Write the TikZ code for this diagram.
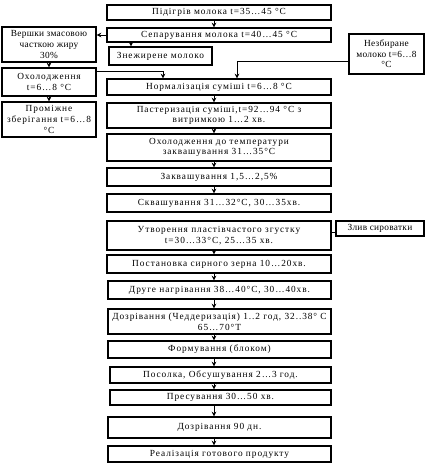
\documentclass[tikz,border=0pt]{standalone}
\usepackage{fontspec}
\setmainfont{Liberation Serif}[LetterSpace=10]
\newfontfamily\sidefont{Liberation Serif}[LetterSpace=3]
\usetikzlibrary{arrows.meta}
\begin{document}
\begin{tikzpicture}[x=0.75pt,y=-0.75pt,
  bx/.style n args={4}{draw=black,line width=0.95pt,fill=white,inner sep=0pt,
     minimum width=#3*0.75pt,minimum height=#4*0.75pt,align=center,
     font=\fontsize{7}{8}\selectfont},
  side/.style={font=\sidefont\fontsize{7}{8}\selectfont},
  arr/.style={-{Stealth[length=3.5pt,width=3.5pt]},line width=0.6pt},
  ln/.style={line width=0.6pt}]
\useasboundingbox (0,0) rectangle (431,468);
% main column
\node[bx={}{}{224}{15}] (pid) at (219,12.5) {Підігрів молока t=35…45 °C};
\node[bx={}{}{224}{14}] (sep) at (219,35) {Сепарування молока t=40…45 °C};
\node[bx={}{}{103}{18}] (zn) at (160.5,56) {Знежирене молоко};
\node[bx={}{}{224}{16}] (norm) at (219,87) {Нормалізація суміші t=6…8 °C};
\node[bx={}{}{224}{25}] (past) at (219,115.5) {Пастеризація суміші,t=92…94 °C з\\витримкою 1…2 хв.};
\node[bx={}{}{224}{27}] (okh2) at (219,147.5) {Охолодження до температури\\заквашування 31…35°C};
\node[bx={}{}{224}{18}] (zakv) at (219,177) {Заквашування 1,5…2,5\%};
\node[bx={}{}{224}{18}] (skv) at (219,203) {Сквашування 31…32°C, 30…35хв.};
\node[bx={}{}{224}{29}] (utv) at (219,235.5) {Утворення пластівчастого згустку\\t=30…33°C, 25…35 хв.};
\node[bx={}{}{224}{18}] (post) at (219,264) {Постановка сирного зерна 10…20хв.};
\node[bx={}{}{223}{18}] (dr) at (219.5,290) {Друге нагрівання 38…40°C, 30…40хв.};
\node[bx={}{}{223}{25}] (doz) at (219.5,321.5) {Дозрівання  (Чеддеризація)  1..2 год, 32..38° C\\65…70°T};
\node[bx={}{}{223}{17}] (form) at (219.5,349.5) {Формування (блоком)};
\node[bx={}{}{221}{16}] (pos) at (220.5,375) {Посолка, Обсушування 2…3 год.};
\node[bx={}{}{221}{15}] (pres) at (220.5,397.5) {Пресування 30…50 хв.};
\node[bx={}{}{223}{21}] (d90) at (219.5,427.5) {Дозрівання 90 дн.};
\node[bx={}{}{223}{16}] (real) at (219.5,454) {Реалізація готового продукту};
% left column
\node[bx={}{}{94}{35},side] (ver) at (49,44.5) {Вершки змасовою\\часткою жиру\\30\%};
\node[bx={}{}{94}{28}] (okh1) at (49,82) {Охолодження\\t=6…8 °C};
\node[bx={}{}{94}{35}] (prom) at (49,119.5) {Проміжне\\зберігання t=6…8\\°C};
% right column
\node[bx={}{}{75}{40},side] (nez) at (386.5,54) {Незбиране\\молоко t=6…8\\°C};
\node[bx={}{}{88}{15},side] (zl) at (380,228.5) {Злив сироватки};
% arrows in main column
\coordinate (ax) at (214,0);
\foreach \a/\b in {pid/sep,norm/past,past/okh2,okh2/zakv,zakv/skv,utv/post,post/dr,dr/doz,doz/form,form/pos,pos/pres,pres/d90,d90/real}
  \draw[arr] (\a.south -| ax) -- (\b.north -| ax);
% side arrows
\draw[arr] (sep.west) -- (sep.west -| ver.east);
\coordinate (az) at (131,0);
\draw[arr] (sep.south -| az) -- (zn.north -| az);
\draw[arr] (ver.south) -- (okh1.north);
\draw[arr] (okh1.south) -- (prom.north);
\coordinate (k1) at (163,71);
\draw[arr] (okh1.east |- k1) -- (k1) -- (norm.north -| k1);
\coordinate (k2) at (237,61);
\draw[arr] (nez.west |- k2) -- (k2) -- (norm.north -| k2);
\coordinate (k3) at (0,232);
\draw[ln] (utv.east |- k3) -- (zl.west |- k3);
\end{tikzpicture}
\end{document}
